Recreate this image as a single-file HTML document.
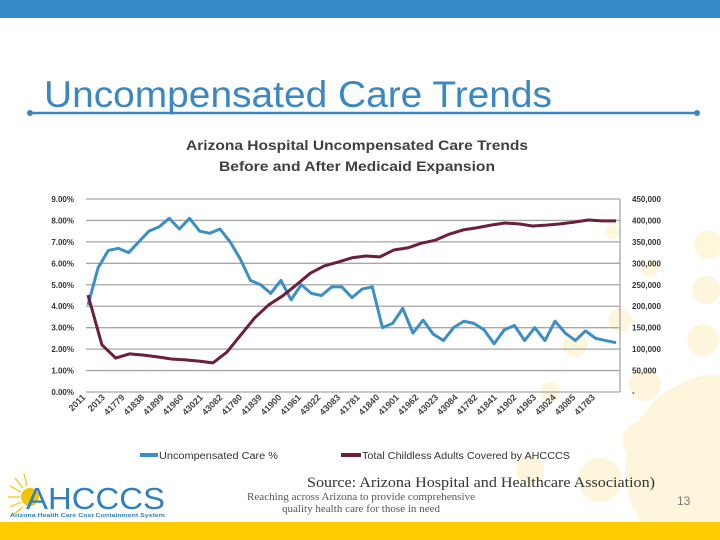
<!DOCTYPE html>
<html><head><meta charset="utf-8"><style>
html,body{margin:0;padding:0;background:#fff;}
svg{display:block;font-family:"Liberation Sans",sans-serif;}
</style></head><body>
<svg id="c" width="720" height="540" viewBox="0 0 720 540" xmlns="http://www.w3.org/2000/svg">
<rect x="0" y="0" width="720" height="18" fill="#3589c8"/>
<g fill="#fdf0c0" opacity="0.55">
<circle cx="720" cy="470" r="95"/><circle cx="708" cy="245" r="14"/><circle cx="706" cy="290" r="14"/><circle cx="703" cy="340" r="16"/><circle cx="706" cy="395" r="20"/><circle cx="650" cy="268" r="9"/><circle cx="612" cy="232" r="7"/><circle cx="620" cy="320" r="12"/><circle cx="645" cy="385" r="16"/><circle cx="575" cy="345" r="12"/><circle cx="550" cy="392" r="10"/><circle cx="600" cy="480" r="22"/><circle cx="530" cy="470" r="14"/><circle cx="640" cy="440" r="18"/>
</g>
<text x="44" y="107" font-size="37" fill="#3a87c4" textLength="508" lengthAdjust="spacingAndGlyphs">Uncompensated Care Trends</text>
<line x1="30" y1="113" x2="697" y2="113" stroke="#3a87c4" stroke-width="2.5"/>
<circle cx="30" cy="113" r="3" fill="#3a87c4"/><circle cx="697" cy="113" r="3" fill="#3a87c4"/>
<text x="357" y="150" font-size="14" font-weight="bold" fill="#404040" text-anchor="middle" textLength="342" lengthAdjust="spacingAndGlyphs">Arizona Hospital Uncompensated Care Trends</text>
<text x="357" y="171" font-size="14" font-weight="bold" fill="#404040" text-anchor="middle" textLength="276" lengthAdjust="spacingAndGlyphs">Before and After Medicaid Expansion</text>
<g id="grid"></g><g id="axes"></g><g id="series"></g>
<g>
<rect x="140" y="453" width="18" height="4" fill="#3b8fc4"/>
<text x="159" y="459" font-size="10" fill="#333" textLength="119" lengthAdjust="spacingAndGlyphs">Uncompensated Care %</text>
<rect x="341" y="453" width="20" height="4" fill="#6b1f3b"/>
<text x="362" y="459" font-size="10" fill="#333" textLength="208" lengthAdjust="spacingAndGlyphs">Total Childless Adults Covered by AHCCCS</text>
</g>
<text x="307" y="487" font-size="15" font-family="Liberation Serif,serif" fill="#333" textLength="348" lengthAdjust="spacingAndGlyphs">Source: Arizona Hospital and Healthcare Association)</text>
<text x="247" y="500" font-size="11" font-family="Liberation Serif,serif" fill="#555" textLength="228" lengthAdjust="spacingAndGlyphs">Reaching across Arizona to provide comprehensive</text>
<text x="282" y="512" font-size="11" font-family="Liberation Serif,serif" fill="#555" textLength="158" lengthAdjust="spacingAndGlyphs">quality health care for those in need</text>
<text x="677" y="505" font-size="12" fill="#777">13</text>
<g>
<g stroke="#f5c400" stroke-width="1.2">
<line x1="20" y1="497" x2="8" y2="497"/><line x1="21" y1="492" x2="10" y2="486"/><line x1="23" y1="488" x2="15" y2="478"/><line x1="27" y1="486" x2="24" y2="474"/><line x1="21" y1="502" x2="10" y2="507"/><line x1="23" y1="507" x2="14" y2="514"/>
</g>
<circle cx="30" cy="497" r="9" fill="#f5c400"/>
<text x="26" y="509" font-size="31" fill="#2f7fc1" textLength="139" lengthAdjust="spacingAndGlyphs">AHCCCS</text>
<text x="10" y="517" font-size="5.5" fill="#2f7fc1" font-weight="bold" textLength="155" lengthAdjust="spacingAndGlyphs">Arizona Health Care Cost Containment System</text>
</g>
<rect x="0" y="522" width="720" height="18" fill="#ffcc00"/>
</svg>
<script>
const leftTicks=[0,1,2,3,4,5,6,7,8,9];
const rightTicks=["-","50,000","100,000","150,000","200,000","250,000","300,000","350,000","400,000","450,000"];
const categories=["2011","2013","41779","41838","41899","41960","43021","43082","41780","41839","41900","41961","43022","43083","41781","41840","41901","41962","43023","43084","41782","41841","41902","41963","43024","43085","41783"];
const uncompPct=[4.06,5.8,6.6,6.7,6.5,7.0,7.5,7.7,8.1,7.6,8.1,7.5,7.4,7.6,7.0,6.2,5.2,5.0,4.6,5.2,4.3,5.0,4.6,4.5,4.9,4.9,4.4,4.8,4.9,3.0,3.2,3.9,2.75,3.35,2.7,2.4,3.0,3.3,3.2,2.9,2.25,2.9,3.1,2.4,3.0,2.4,3.3,2.75,2.4,2.85,2.5,2.4,2.3];
const childlessAdults=[226000,110000,79000,89000,86000,82000,77000,75000,72000,68000,93000,133000,173000,203000,224000,250000,277000,294000,303000,313000,317000,315000,331000,336000,347000,354000,368000,378000,383000,389000,394000,392000,387000,389000,392000,396000,401000,399000,399000];
const NS="http://www.w3.org/2000/svg";
const X0=86,X1=620,Y0=392,Y1=199,SX0=88,SX1=616;
const yL=v=>Y0-(v/9)*(Y0-Y1);
const yR=v=>Y0-(v/450000)*(Y0-Y1);
const xs=(i,n)=>SX0+i*(SX1-SX0)/(n-1);
function mk(t,a,p){const e=document.createElementNS(NS,t);for(const k in a)e.setAttribute(k,a[k]);p.appendChild(e);return e;}
const grid=document.getElementById('grid'),axes=document.getElementById('axes'),ser=document.getElementById('series');
leftTicks.forEach((v,i)=>{
 const y=yL(v);
 const g=mk('line',{x1:X0,y1:y,x2:X1,y2:y,stroke:'#a6a6a6','stroke-width':1.3},grid);
 
 
 const t=mk('text',{x:74,y:y+3,'font-size':8,'font-weight':'bold',fill:'#333','text-anchor':'end'},axes);
 t.textContent=v.toFixed(2)+'%';
 
 
 const r=mk('text',{x:632,y:y+3,'font-size':8,'font-weight':'bold',fill:'#333'},axes);
 r.textContent=rightTicks[i];
 
 
});
const ra=mk('line',{x1:X1,y1:Y1,x2:X1,y2:Y0,stroke:'#a6a6a6','stroke-width':1.3},grid);


categories.forEach((c,i)=>{
 const x=X0+i*19.6, y=398;
 const t=mk('text',{x:x,y:y,'font-size':9,'font-weight':'bold',fill:'#444','text-anchor':'end',transform:`rotate(-45 ${x} ${y})`},axes);
 t.textContent=c;
 
 
});
const p1=mk('polyline',{points:uncompPct.map((v,i)=>xs(i,uncompPct.length)+','+yL(v)).join(' '),fill:'none',stroke:'#3b8fc4','stroke-width':3,'stroke-linejoin':'round'},ser);


const p2=mk('polyline',{points:childlessAdults.map((v,i)=>xs(i,childlessAdults.length)+','+yR(v)).join(' '),fill:'none',stroke:'#6b1f3b','stroke-width':3,'stroke-linejoin':'round'},ser);


</script>
</body></html>
